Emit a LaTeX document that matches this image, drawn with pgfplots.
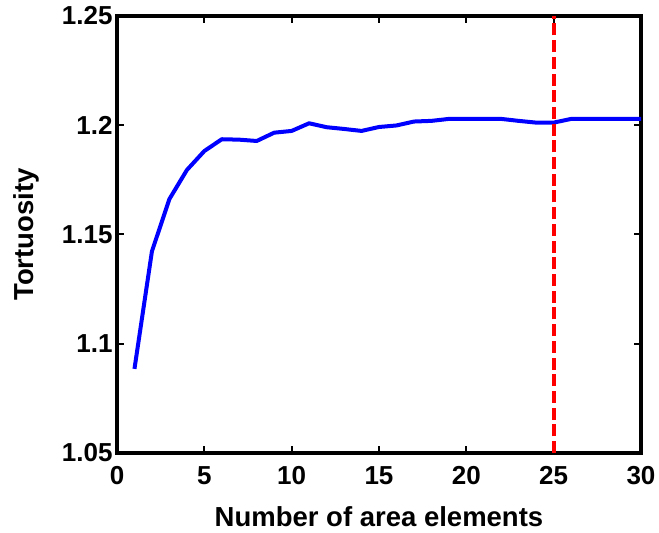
\documentclass[border=0pt]{standalone}
\usepackage{fontspec}
\setmainfont{Liberation Sans}
\usepackage{pgfplots}
\pgfplotsset{compat=1.18}

\begin{document}
\begin{tikzpicture}
\begin{axis}[
  scale only axis,
  width=524pt, height=437pt,
  xmin=0, xmax=30, ymin=1.05, ymax=1.25,
  xtick={0,5,...,30},
  ytick={1.05,1.1,1.15,1.2,1.25},
  yticklabels={1.05,1.1,1.15,1.2,1.25},
  /pgf/number format/assume math mode=true,
  tick label style={font=\fontsize{26}{30}\selectfont\bfseries},
  xticklabel style={yshift=-10pt},
  yticklabel style={xshift=-1pt},
  label style={font=\fontsize{27.5}{32}\selectfont\bfseries},
  axis line style={line width=3.5pt},
  every tick/.style={black, line width=2pt},
  major tick length=7pt,
  tick align=inside,
  xtick pos=both, ytick pos=both,
  xlabel={Number of area elements},
  ylabel={Tortuosity},
  xlabel style={at={(axis description cs:0.5,-0.145)}, anchor=center},
  ylabel style={at={(axis description cs:-0.172,0.5)}, anchor=center},
  clip=false,
]
% tortuosity against the number of area elements
\addplot[color={rgb,255:red,0;green,0;blue,255}, line width=4pt, line join=round] coordinates {
  (1,1.0885) (2,1.1423) (3,1.1662) (4,1.1795) (5,1.1882)
  (6,1.1936) (7,1.1934) (8,1.1928) (9,1.1966) (10,1.1974)
  (11,1.2009) (12,1.1991) (13,1.1983) (14,1.1974) (15,1.1992)
  (16,1.1999) (17,1.2017) (18,1.2020) (19,1.2029) (20,1.2029)
  (21,1.2029) (22,1.2029) (23,1.2020) (24,1.2012) (25,1.2012)
  (26,1.2029) (27,1.2029) (28,1.2029) (29,1.2029) (30,1.2029)
};
% chosen number of elements
\addplot[color={rgb,255:red,255;green,0;blue,0}, line width=4pt, dash pattern=on 12pt off 4.7pt] coordinates {
  (25,1.05) (25,1.25)
};
\end{axis}
\path[use as bounding box] ([shift={(-117pt,-80pt)}]current axis.south west)
  rectangle ([shift={(18pt,16pt)}]current axis.north east);
\end{tikzpicture}
\end{document}
